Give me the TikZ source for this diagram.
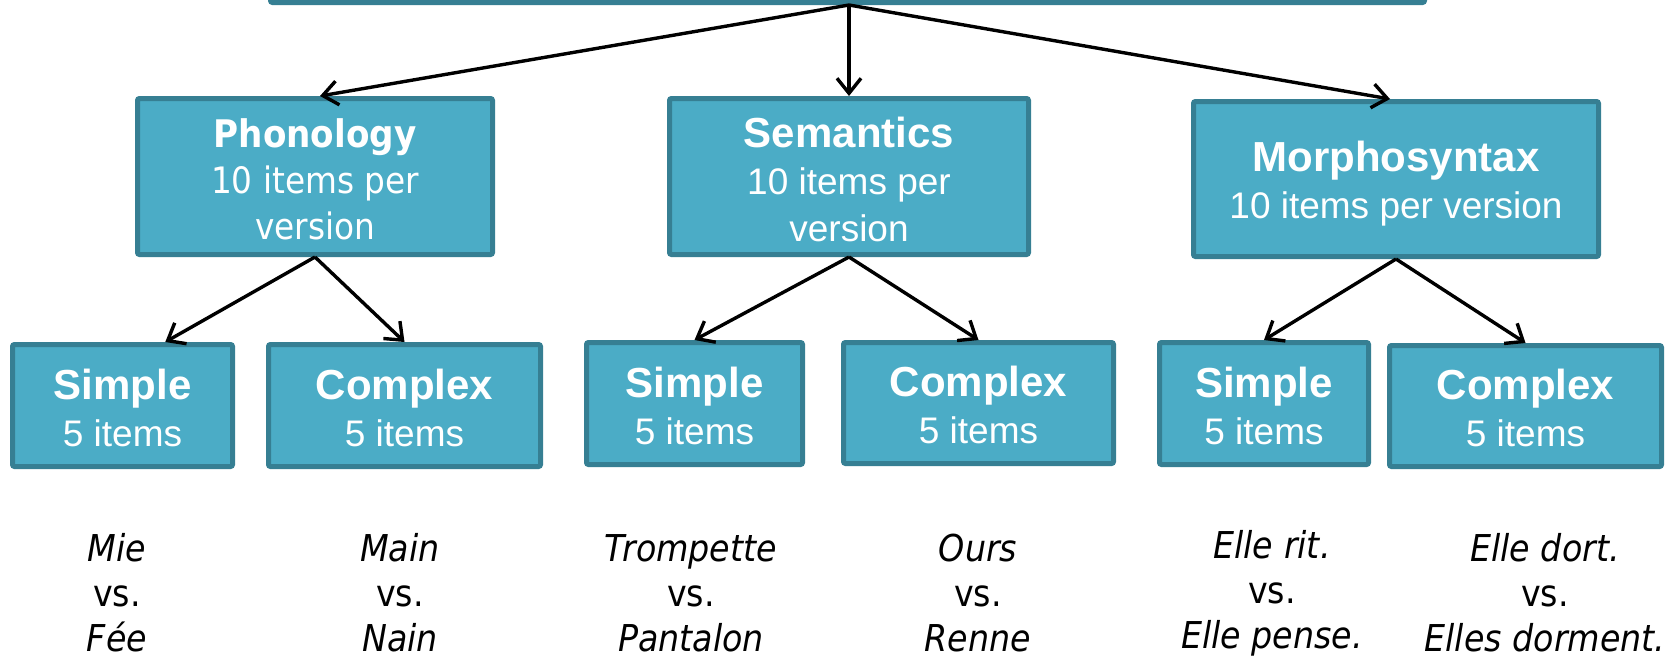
\documentclass[tikz,border=0pt]{standalone}
\usepackage{fontspec}
\setmainfont{Liberation Sans}
\newfontfamily\tah{DejaVu Sans Condensed}
\usetikzlibrary{arrows.meta,calc}
\definecolor{boxfill}{HTML}{4BACC6}
\definecolor{boxline}{HTML}{367F93}
\newcommand{\strt}[1]{\rule{0pt}{#1}}
\begin{document}
\begin{tikzpicture}[x=0.5pt,y=-0.5pt,
  box/.style={draw=boxline, fill=boxfill, line width=2.5pt, rounded corners=1pt,
    inner sep=0pt, text=white, align=center,
    font=\fontsize{18.5pt}{23.5pt}\selectfont},
  bs/.style 2 args={minimum width=#1*0.5pt-2.5pt, minimum height=#2*0.5pt-2.5pt},
  arr/.style={line width=1.7pt, draw=black, -{Straight Barb[length=7.5pt,width=12pt,line width=1.7pt]}},
  ex/.style={align=center, text=black, inner sep=0pt, font=\tah\fontsize{18.5pt}{22.5pt}\selectfont}
]
\useasboundingbox (0,0) rectangle (1670,655);
\clip (0,0) rectangle (1670,655);
% top box (only its lower edge is visible)
\node[box, bs={1159}{100}] (root) at (847.5,-45) {};
% second level
\node[box, bs={360}{161}, font=\tah\fontsize{18.2pt}{23pt}\selectfont] (ph) at (315,176.5)
  {\strt{16.8pt}{\bfseries\fontsize{19pt}{23pt}\selectfont Phonology}\\10 items per\\version};
\node[box, bs={364}{161}] (se) at (849,176.5)
  {\strt{18.1pt}{\bfseries\fontsize{21pt}{23.5pt}\selectfont Semantics}\\10 items per\\version};
\node[box, bs={410}{160}] (mo) at (1396,179)
  {\strt{20pt}{\bfseries\fontsize{21pt}{23.5pt}\selectfont Morphosyntax}\\10 items per version};
% third level
\tikzset{leaf/.style={box}}
\node[leaf, bs={225}{127}] (s1) at (122.5,405.5)
  {\strt{17.4pt}{\bfseries\fontsize{21pt}{23.5pt}\selectfont Simple}\\5 items};
\node[leaf, bs={277}{127}] (c1) at (404.5,405.5)
  {\strt{17.4pt}{\bfseries\fontsize{21pt}{23.5pt}\selectfont Complex}\\5 items};
\node[leaf, bs={221}{127}] (s2) at (694.5,403.5)
  {\strt{17.4pt}{\bfseries\fontsize{21pt}{23.5pt}\selectfont Simple}\\5 items};
\node[leaf, bs={275}{126}] (c2) at (978.5,403)
  {\strt{17.4pt}{\bfseries\fontsize{21pt}{23.5pt}\selectfont Complex}\\5 items};
\node[leaf, bs={214}{127}] (s3) at (1264,403.5)
  {\strt{17.4pt}{\bfseries\fontsize{21pt}{23.5pt}\selectfont Simple}\\5 items};
\node[leaf, bs={277}{126}] (c3) at (1525.5,406)
  {\strt{17.4pt}{\bfseries\fontsize{21pt}{23.5pt}\selectfont Complex}\\5 items};
% examples
\node[ex] (e1) at (117,593) {\textit{Mie}\\vs.\\\textit{Fée}};
\node[ex] (e2) at (400,593) {\textit{Main}\\vs.\\\textit{Nain}};
\node[ex] (e3) at (691,593) {\textit{Trompette}\\vs.\\\textit{Pantalon}};
\node[ex] (e4) at (978,593) {\textit{Ours}\\vs.\\\textit{Renne}};
\node[ex] (e5) at (1272,593) {\textit{Elle rit.}\\vs.\\\textit{Elle pense.}};
\node[ex] (e6) at (1545,593) {\textit{Elle dort.}\\vs.\\\textit{Elles dorment.}};
% connectors
\coordinate (rs) at ($(root.south)+(1.5,0)$);
\draw[arr] (rs) -- ($(ph.north)+(5,0)$);
\draw[arr] (rs) -- (se.north);
\draw[arr] (rs) -- ($(mo.north)+(-6,0)$);
\draw[arr] (ph.south) -- ($(s1.north west)!0.69!(s1.north east)$);
\draw[arr] (ph.south) -- (c1.north);
\draw[arr] (se.south) -- (s2.north);
\draw[arr] (se.south) -- (c2.north);
\draw[arr] (mo.south) -- (s3.north);
\draw[arr] (mo.south) -- (c3.north);
\end{tikzpicture}
\end{document}
